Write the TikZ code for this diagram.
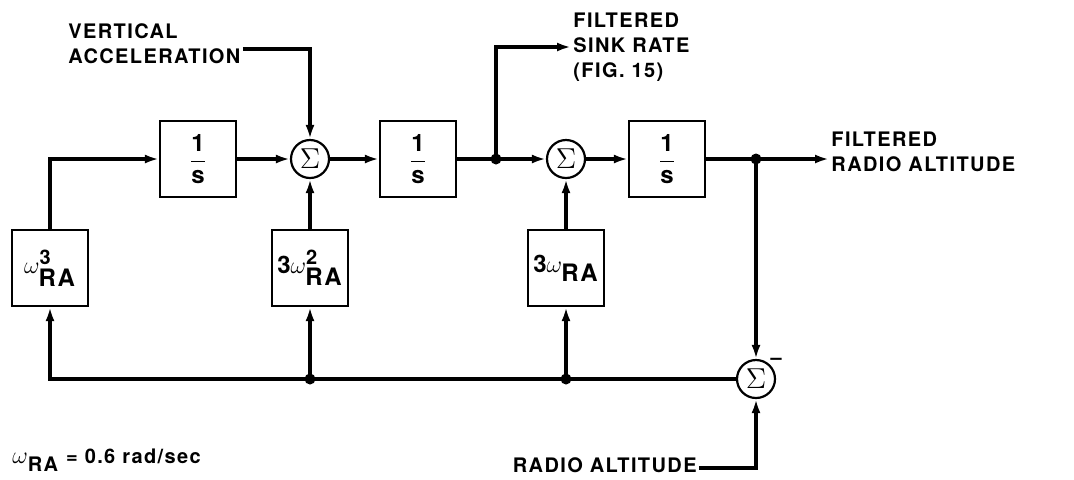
\documentclass[tikz,border=0pt]{standalone}
\usepackage{amsmath}
\usepackage{fontspec}
\setmainfont{TeX Gyre Heros}[LetterSpace=7]
\usetikzlibrary{arrows.meta,positioning}

\newcommand{\inv}{$\dfrac{\text{1}}{\text{s}}$}

\begin{document}
\begin{tikzpicture}[
  x=0.5pt, y=-0.5pt,
  font=\fontsize{10}{12.5}\selectfont\bfseries,
  blk/.style={draw, line width=1.1pt, minimum width=38pt, minimum height=38pt,
              inner sep=1pt, font=\large\bfseries},
  sumnode/.style={draw, circle, line width=1.1pt, minimum size=19pt, inner sep=0pt,
              font=\Large},
  ar/.style={-{Latex[length=7pt,width=4.5pt]}, line width=1.7pt},
  dot/.style={circle, fill, inner sep=0pt, minimum size=5.5pt},
  lbl/.style={align=left, inner sep=1pt}
]
\useasboundingbox (0,0) rectangle (1074,479);

% forward path
\node[blk] (int1) at (198,159) {\inv};
\node[sumnode] (sum1) at (310,159) {$\Sigma$};
\node[blk] (int2) at (418,159) {\inv};
\node[sumnode] (sum2) at (566,159) {$\Sigma$};
\node[blk] (int3) at (667,159) {\inv};

% gains
\node[blk] (g3) at (50,268) {$\omega^{\mbox{\normalsize 3}}_{\mbox{RA}}$};
\node[blk] (g2) at (310,268) {3$\omega^{\mbox{\normalsize 2}}_{\mbox{RA}}$};
\node[blk] (g1) at (566,268) {3$\omega_{\mbox{RA}}$};
\node[sumnode] (sum3) at (756,379) {$\Sigma$};
\node[inner sep=0pt, anchor=south west] (neg) at (sum3.north east) {--};

% texts
\node[lbl, anchor=west] (vacc) at (66,44) {VERTICAL\\ACCELERATION};
\node[lbl, anchor=west] (sink) at (571,47) {FILTERED\\SINK RATE\\(FIG. 15)};
\node[lbl, anchor=west] (out) at (829,152) {FILTERED\\RADIO ALTITUDE};
\node[lbl, anchor=east] (ralt) at (699,465) {RADIO ALTITUDE};
\node[lbl, anchor=west] (wnote) at (10,460) {{\large$\omega$}$_{\mbox{RA}}$ = 0.6 rad/sec};

\draw[ar] (g3) |- (int1);
\draw[ar] (int1) -- (sum1);
\draw[ar] ([yshift=-2.5pt]vacc.east) -| (sum1);
\draw[ar] (sum1) -- (int2);
\draw[ar] (int2) -- (sum2);
\draw[ar] (sum2) -- (int3);
\draw[ar] (int3) -- (int3 -| out.west);
\draw[ar] (g2) -- (sum1);
\draw[ar] (g1) -- (sum2);

\node[dot] (j1) at (496,159) {};
\node[dot] (j2) at (756,159) {};
\draw[ar] (j1.center) |- (sink.west);
\draw[ar] (j2.center) -- (sum3);

% feedback
\draw[ar] (sum3) -| (g3);
\node[dot] (j3) at (310,379) {};
\node[dot] (j4) at (566,379) {};
\draw[ar] (j3.center) -- (g2);
\draw[ar] (j4.center) -- (g1);
\draw[ar] ([yshift=-1.5pt]ralt.east) -| (sum3);
\end{tikzpicture}
\end{document}
